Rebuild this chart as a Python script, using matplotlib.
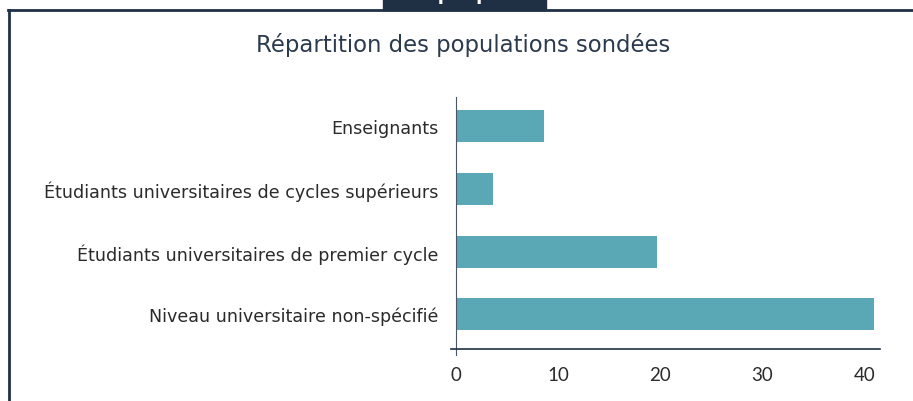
import matplotlib
matplotlib.use("Agg")
import matplotlib.pyplot as plt

NAVY = "#1f3045"
TEAL = "#5aa8b5"
TEXT = "#2b2b2b"

categories = [
    "Enseignants",
    "Étudiants universitaires de cycles supérieurs",
    "Étudiants universitaires de premier cycle",
    "Niveau universitaire non-spécifié",
]
values = [8.6, 3.6, 19.7, 41.0]
xticks = [0, 10, 20, 30, 40]

fig = plt.figure(figsize=(9.13, 4.02), dpi=100)

# frame of the card (cropped: only top and left borders visible)
fig.add_artist(plt.Line2D([8 / 913, 1], [1 - 10.5 / 402] * 2, color=NAVY, lw=2))
fig.add_artist(plt.Line2D([8.5 / 913] * 2, [0, 1 - 10.5 / 402], color=NAVY, lw=2))
fig.add_artist(plt.Rectangle((383 / 913, 1 - 11 / 402), 163 / 913, 11 / 402,
                             color=NAVY, transform=fig.transFigure))
fig.text(464 / 913, 1 - 4 / 402, "Graphique 1", color="white", fontsize=13,
         ha="center", va="bottom", fontweight="bold")

fig.text(463 / 913, 1 - 45 / 402, "Répartition des populations sondées",
         ha="center", va="center", fontsize=16.4, color="#2b3a4c")

ax = fig.add_axes([451 / 913, 1 - 350 / 402, (880 - 451) / 913, (350 - 98) / 402])
y = range(len(categories))
ax.barh(y, values, height=0.51, color=TEAL)
ax.set_ylim(len(categories) - 0.443, -0.47)
ax.set_xlim(-0.5, 41.55)
ax.set_yticks(list(y))
ax.set_yticklabels(categories)
ax.set_xticks(xticks)
ax.set_xticklabels([str(t) for t in xticks])
ax.tick_params(axis="y", length=0, pad=13, labelsize=12.6, labelcolor=TEXT)
ax.tick_params(axis="x", length=0, pad=12, labelsize=13.5, labelcolor=TEXT,
               labelfontfamily="Lato")

for s in ["top", "right"]:
    ax.spines[s].set_visible(False)
ax.spines["left"].set_color("#4a5668")
ax.spines["left"].set_position(("data", 0))
ax.spines["left"].set_bounds(len(categories) - 0.35, -0.47)
ax.spines["bottom"].set_color(NAVY)
ax.spines["bottom"].set_linewidth(1.2)

fig.savefig("out.png", dpi=100)
